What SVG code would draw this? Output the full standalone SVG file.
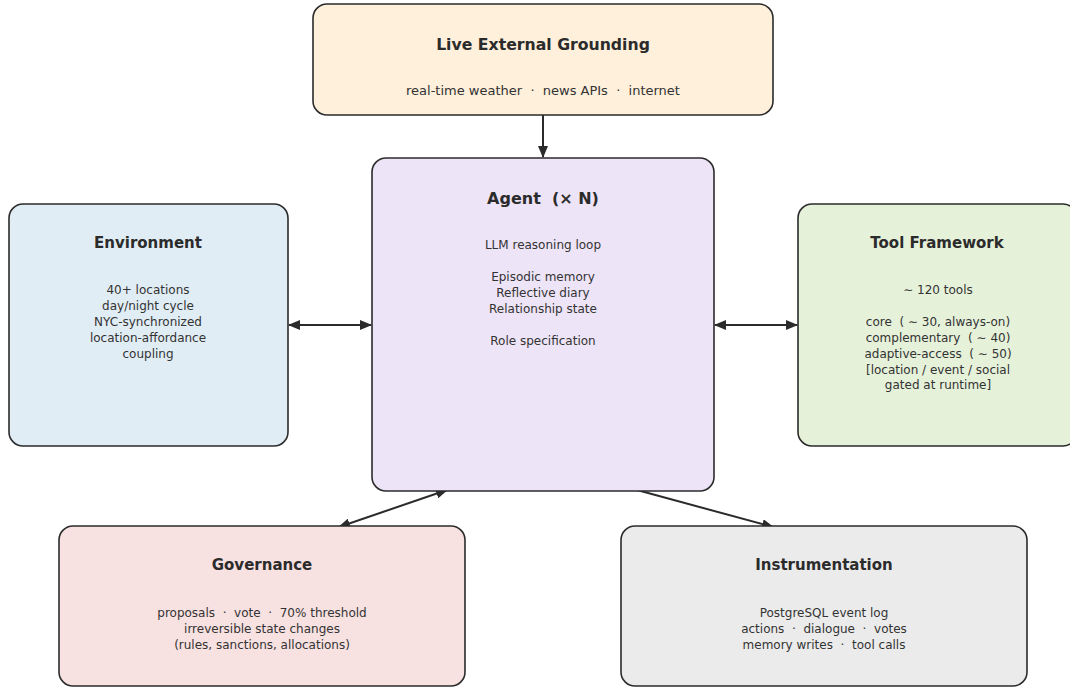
<svg xmlns="http://www.w3.org/2000/svg" width="1070" height="687" viewBox="0 0 1070 687">
<style>
.box{stroke:#2b2b2b;stroke-width:1.6}
.t{font-family:"DejaVu Sans",sans-serif;font-weight:bold;font-size:15px;fill:#2b2b2b;text-anchor:middle;white-space:pre}
.b{font-family:"DejaVu Sans",sans-serif;font-size:12px;fill:#333;text-anchor:middle;white-space:pre}
.c{stroke:#2b2b2b;stroke-width:2;fill:none}
</style>
<defs>
<marker id="ah" viewBox="0 0 12 10" refX="11" refY="5" markerWidth="12" markerHeight="10" markerUnits="userSpaceOnUse" orient="auto-start-reverse">
<path d="M0,0 L12,5 L0,10 z" fill="#2b2b2b"/>
</marker>
</defs>
<rect width="1070" height="687" fill="#fff"/>
<g id="connectors">
<line class="c" x1="543" y1="115" x2="543" y2="157" marker-end="url(#ah)"/>
<line class="c" x1="289" y1="325" x2="371" y2="325" marker-start="url(#ah)" marker-end="url(#ah)"/>
<line class="c" x1="715" y1="325" x2="797" y2="325" marker-start="url(#ah)" marker-end="url(#ah)"/>
<line class="c" x1="447" y1="490" x2="339" y2="527" marker-start="url(#ah)" marker-end="url(#ah)"/>
<line class="c" x1="637" y1="490" x2="773" y2="527" marker-end="url(#ah)"/>
</g>
<g id="grounding">
<rect class="box" x="313" y="4" width="460" height="111" rx="14" fill="#fff0db"/>
<text class="t" x="543" y="50" style="font-size:15.7px">Live External Grounding</text>
<text class="b" x="543" y="95" style="font-size:13px">real-time weather  ·  news APIs  ·  internet</text>
</g>
<g id="agent">
<rect class="box" x="372" y="158" width="342" height="333" rx="14" fill="#eee4f7"/>
<text class="t" x="543" y="204" style="font-size:16px">Agent  (× N)</text>
<text class="b" x="543" y="249">LLM reasoning loop</text>
<text class="b" x="543" y="281">Episodic memory</text>
<text class="b" x="543" y="297">Reflective diary</text>
<text class="b" x="543" y="313">Relationship state</text>
<text class="b" x="543" y="345">Role specification</text>
</g>
<g id="environment">
<rect class="box" x="9" y="204" width="279" height="242" rx="14" fill="#e1edf5"/>
<text class="t" x="148" y="248">Environment</text>
<text class="b" x="148" y="294">40+ locations</text>
<text class="b" x="148" y="310">day/night cycle</text>
<text class="b" x="148" y="326">NYC-synchronized</text>
<text class="b" x="148" y="342">location-affordance</text>
<text class="b" x="148" y="358">coupling</text>
</g>
<g id="tools">
<rect class="box" x="798" y="204" width="279" height="242" rx="14" fill="#e6f1da"/>
<text class="t" x="937" y="248">Tool Framework</text>
<text class="b" x="938" y="294">∼ 120 tools</text>
<text class="b" x="938" y="326">core  ( ∼ 30, always-on)</text>
<text class="b" x="938" y="342">complementary  ( ∼ 40)</text>
<text class="b" x="938" y="358">adaptive-access  ( ∼ 50)</text>
<text class="b" x="938" y="374">[location / event / social</text>
<text class="b" x="938" y="389">gated at runtime]</text>
</g>
<g id="governance">
<rect class="box" x="59" y="526" width="406" height="160" rx="14" fill="#f8e1e1"/>
<text class="t" x="262" y="570">Governance</text>
<text class="b" x="262" y="617">proposals  ·  vote  ·  70% threshold</text>
<text class="b" x="262" y="633">irreversible state changes</text>
<text class="b" x="262" y="649">(rules, sanctions, allocations)</text>
</g>
<g id="instrumentation">
<rect class="box" x="621" y="526" width="406" height="160" rx="14" fill="#ebebeb"/>
<text class="t" x="824" y="570">Instrumentation</text>
<text class="b" x="824" y="617">PostgreSQL event log</text>
<text class="b" x="824" y="633">actions  ·  dialogue  ·  votes</text>
<text class="b" x="824" y="649">memory writes  ·  tool calls</text>
</g>
</svg>
